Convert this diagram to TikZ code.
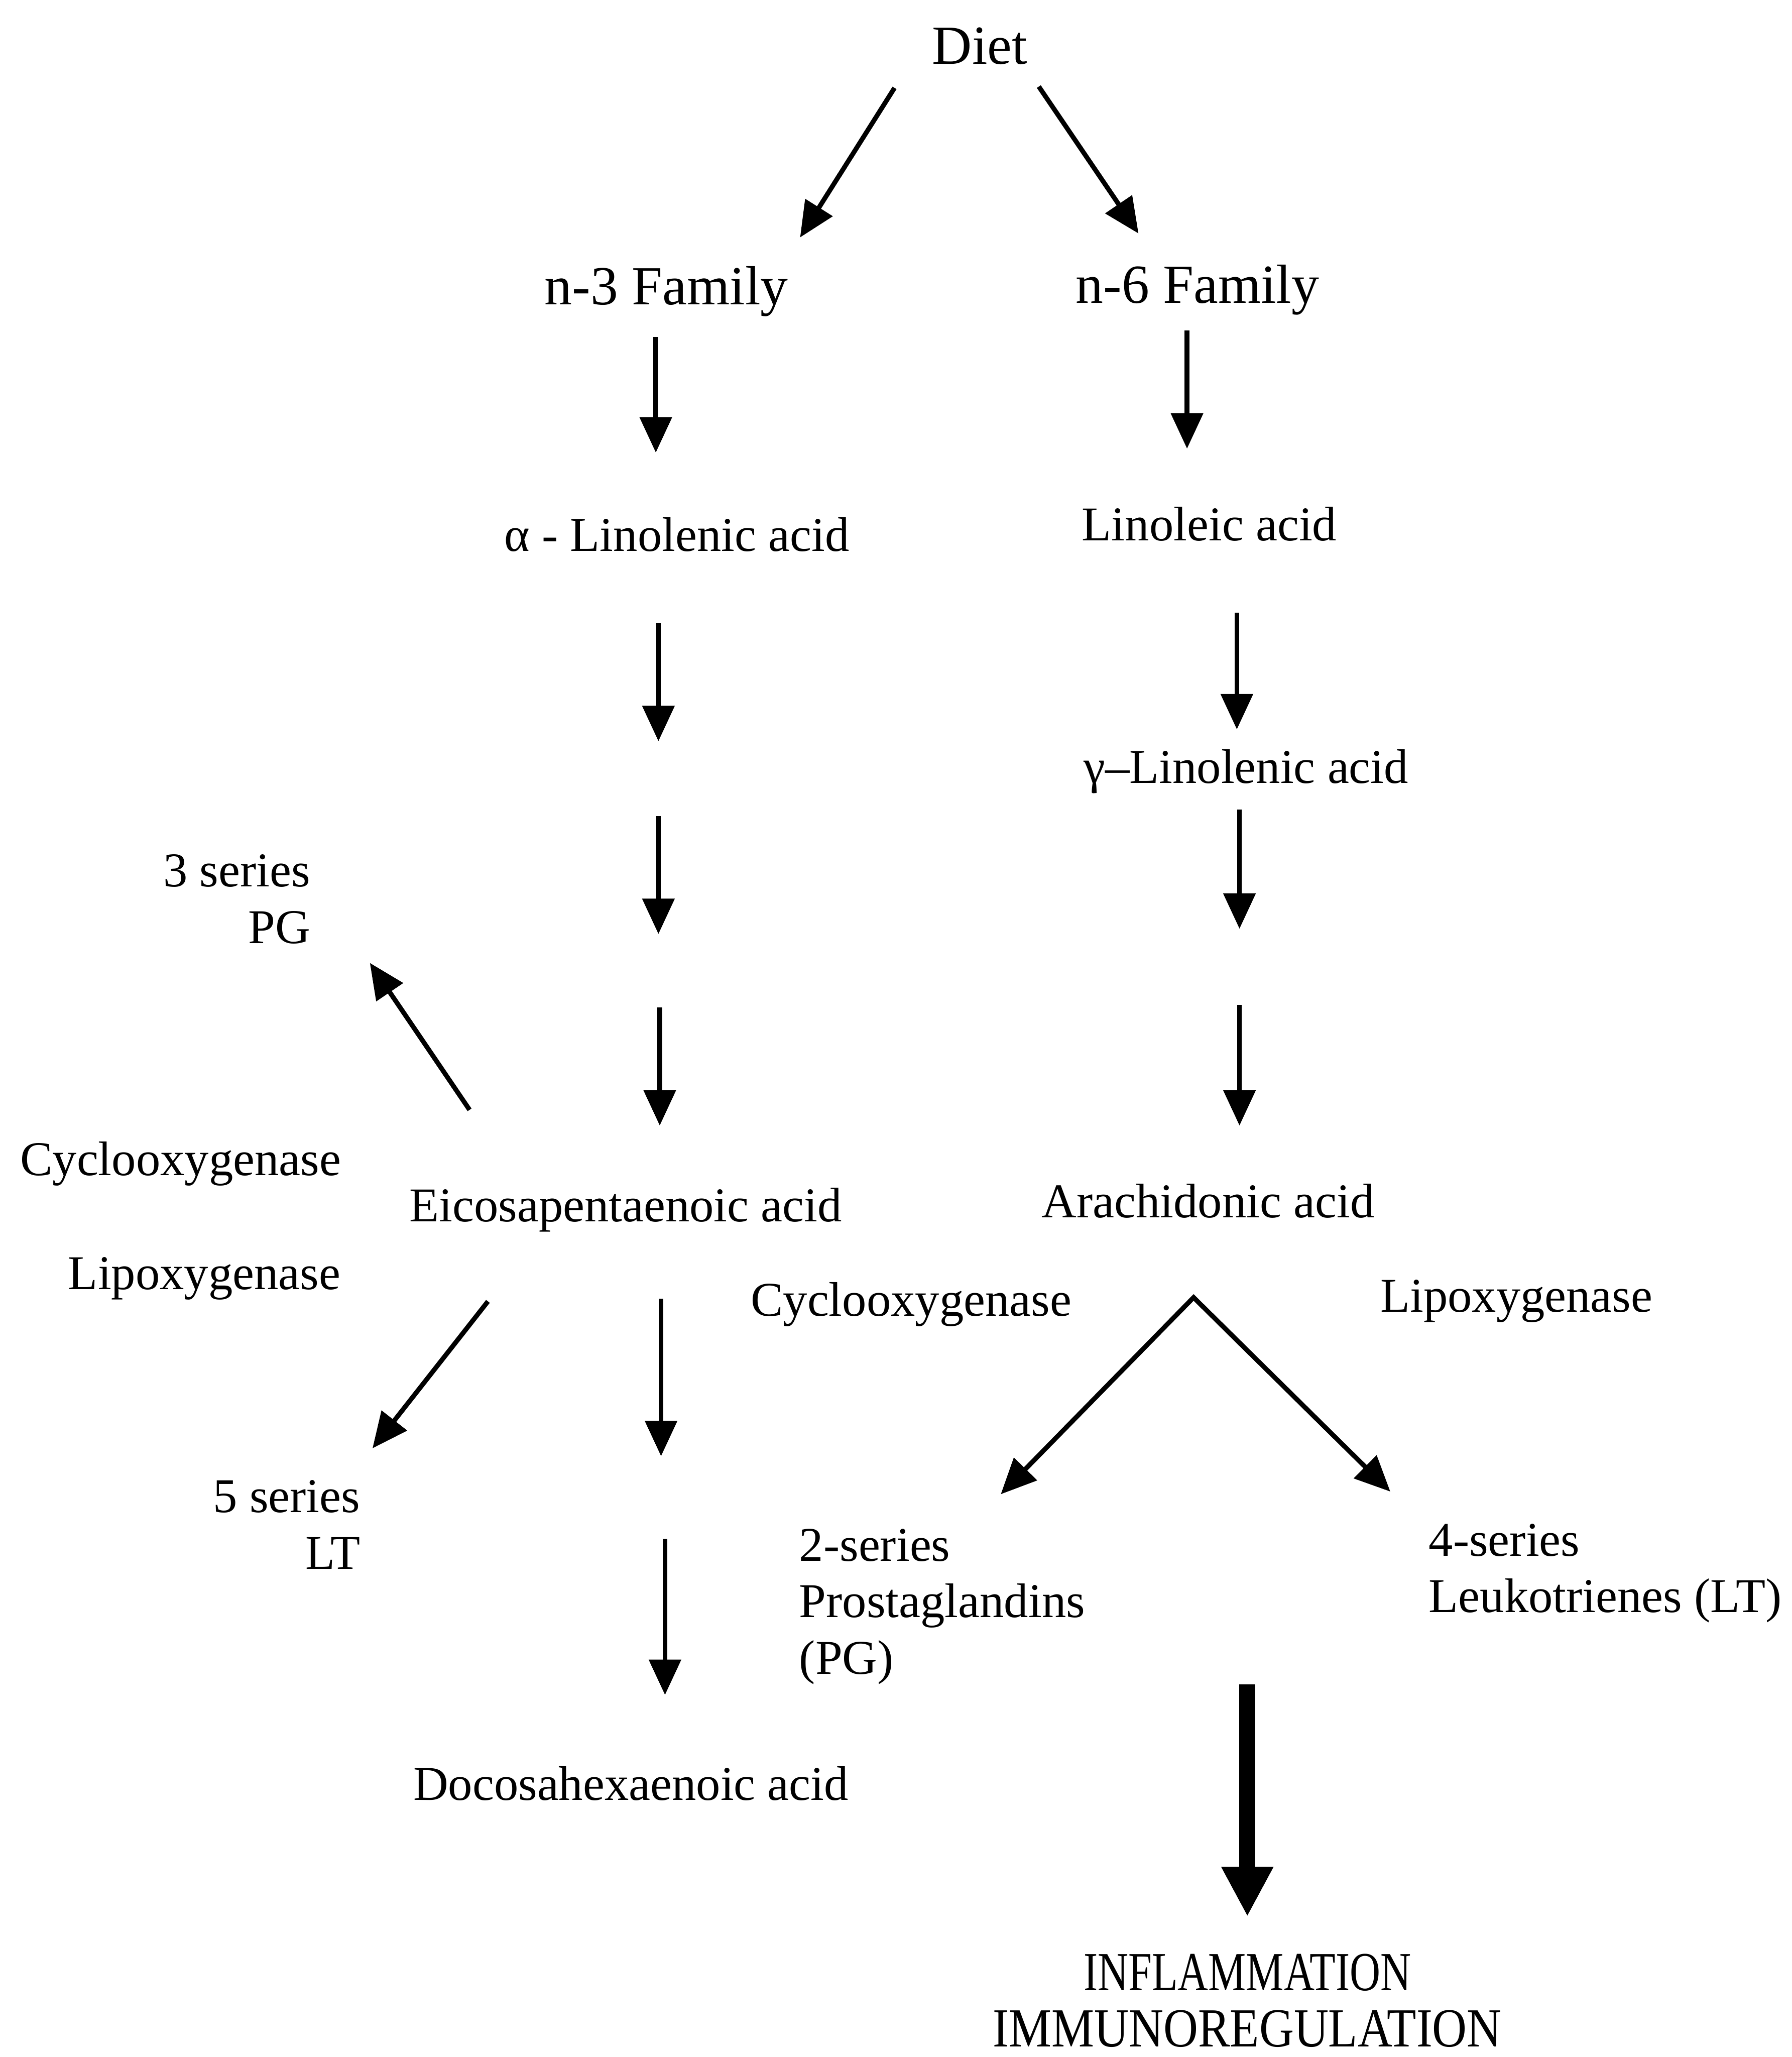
\documentclass[tikz,border=0pt]{standalone}
\usepackage{fontspec}
\usepackage{graphicx}
\setmainfont{Liberation Serif}
\usetikzlibrary{arrows.meta}

\begin{document}
\begin{tikzpicture}[x=0.5pt, y=-0.5pt,
  lbl/.style={inner sep=0pt, font=\fontsize{18.5}{21.5}\selectfont},
  big/.style={inner sep=0pt, font=\fontsize{21}{25}\selectfont},
  tall/.style={inner sep=0pt, font=\fontsize{21}{21.5}\selectfont},
  flow/.style={line width=1.8pt, -{Triangle[length=13.5pt,width=12pt]}},
  fork/.style={line width=1.8pt, {Triangle[length=13.5pt,width=12pt]}-{Triangle[length=13.5pt,width=12pt]}},
  heavy/.style={line width=6.2pt, -{Triangle[length=19pt,width=18.5pt]}}]

\useasboundingbox (0,0) rectangle (1366,1568);

% ---- labels ----
\node[big, anchor=base] (diet) at (747,49) {Diet};
\node[big, anchor=base] (n3) at (508,232) {n-3 Family};
\node[big, anchor=base] (n6) at (913,231) {n-6 Family};

\node[lbl, anchor=base] (ala) at (516,420) {α - Linolenic acid};
\node[lbl, anchor=base] (la)  at (922,412) {Linoleic acid};
\node[lbl, anchor=base] (gla) at (950,597) {γ–Linolenic acid};

\node[lbl, anchor=base east] (pg3) at (237,676)
  {\begin{tabular}[t]{@{}r@{}}3 series\\PG\end{tabular}};
\node[lbl, anchor=base west] (cox1) at (15,896) {Cyclooxygenase};
\node[lbl, anchor=base] (epa) at (477,931) {Eicosapentaenoic acid};
\node[lbl, anchor=base] (aa)  at (921,928) {Arachidonic acid};
\node[lbl, anchor=base east] (lox1) at (260,983) {Lipoxygenase};
\node[lbl, anchor=base west] (cox2) at (572,1003) {Cyclooxygenase};
\node[lbl, anchor=base west] (lox2) at (1052,1000) {Lipoxygenase};

\node[lbl, anchor=base east] (lt5) at (275,1153)
  {\begin{tabular}[t]{@{}r@{}}5 series\\LT\end{tabular}};
\node[lbl, anchor=base west] (pg2) at (609,1190)
  {\begin{tabular}[t]{@{}l@{}}2-series\\Prostaglandins\\(PG)\end{tabular}};
\node[lbl, anchor=base west] (lt4) at (1089,1186)
  {\begin{tabular}[t]{@{}l@{}}4-series\\Leukotrienes (LT)\end{tabular}};

\node[lbl, anchor=base] (dha) at (481,1372) {Docosahexaenoic acid};
\node[tall, align=center, anchor=south] (infl) at (951,1561)
  {\scalebox{0.77}[1]{INFLAMMATION}\\\scalebox{0.87}[1]{IMMUNOREGULATION}};

% ---- arrow end points ----
\coordinate (dietL) at (682,67);   \coordinate (n3top) at (610,181);
\coordinate (dietR) at (792,66);   \coordinate (n6top) at (868,178);

\coordinate (n3bot) at (500,257);  \coordinate (alatop) at (500,345);
\coordinate (ala1)  at (502,475);  \coordinate (ala1e) at (502,565);
\coordinate (ala2)  at (502,622);  \coordinate (ala2e) at (502,712);
\coordinate (ala3)  at (503,768);  \coordinate (epatop) at (503,858);

\coordinate (n6bot) at (905,252);  \coordinate (latop) at (905,342);
\coordinate (labot) at (943,467);  \coordinate (glatop) at (943,556);
\coordinate (gla1)  at (945,617);  \coordinate (gla1e) at (945,708);
\coordinate (gla2)  at (945,766);  \coordinate (aatop) at (945,858);

\coordinate (epaUL) at (358,846);  \coordinate (pg3tip) at (282,734);
\coordinate (epaLL) at (372,992);  \coordinate (lt5tip) at (284,1104);
\coordinate (epabot) at (504,990); \coordinate (epa1e) at (504,1110);
\coordinate (epa2)  at (507,1173); \coordinate (dhatop) at (507,1292);

\coordinate (aafork) at (910,989);
\coordinate (pg2tip) at (763,1139);
\coordinate (lt4tip) at (1060,1137);

\coordinate (eicos) at (951,1284); \coordinate (infltop) at (951,1461);

% ---- connectors ----
\draw[flow] (dietL) -- (n3top);
\draw[flow] (dietR) -- (n6top);

\draw[flow] (n3bot) -- (alatop);
\draw[flow] (ala1) -- (ala1e);
\draw[flow] (ala2) -- (ala2e);
\draw[flow] (ala3) -- (epatop);

\draw[flow] (n6bot) -- (latop);
\draw[flow] (labot) -- (glatop);
\draw[flow] (gla1) -- (gla1e);
\draw[flow] (gla2) -- (aatop);

\draw[flow] (epaUL) -- (pg3tip);
\draw[flow] (epaLL) -- (lt5tip);
\draw[flow] (epabot) -- (epa1e);
\draw[flow] (epa2) -- (dhatop);

\draw[fork] (pg2tip) -- (aafork) -- (lt4tip);

\draw[heavy] (eicos) -- (infltop);
\end{tikzpicture}
\end{document}
